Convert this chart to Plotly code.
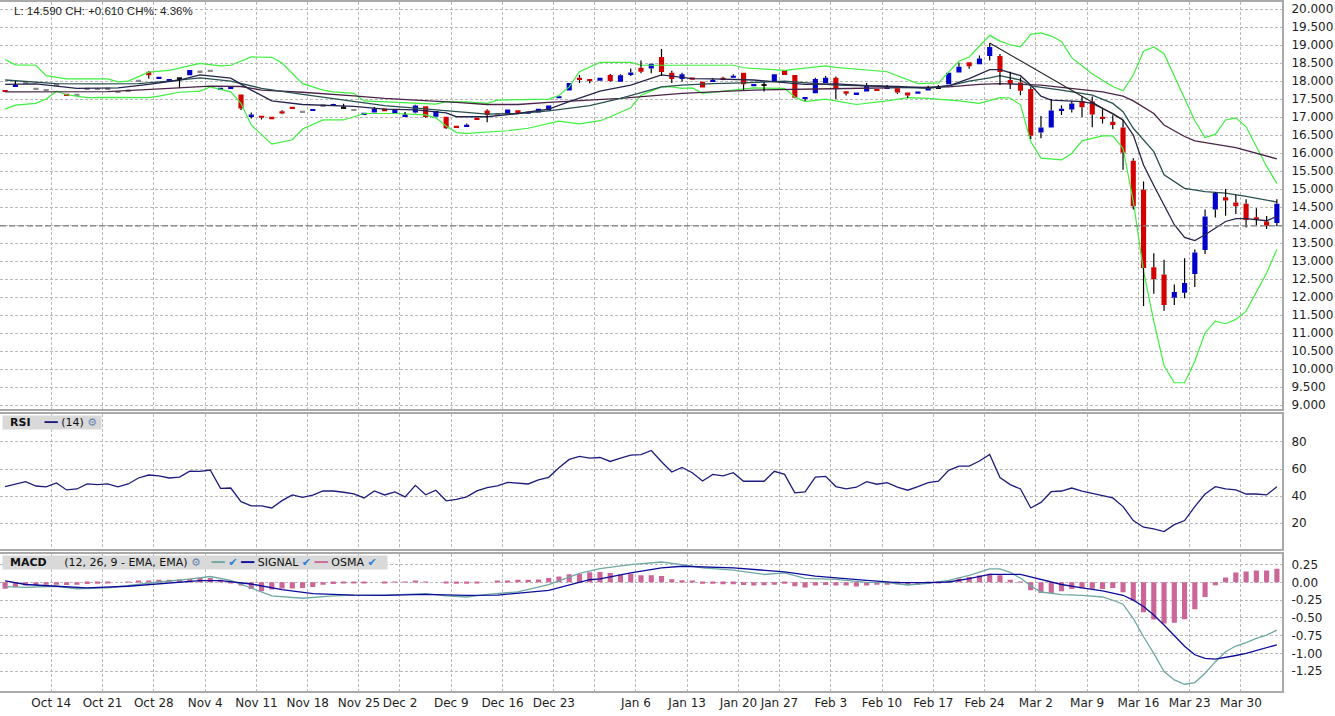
import plotly.graph_objects as go

# trading-day index: 0 = Mon Oct 7 2019 ... 124 = Thu Apr 2 2020
week_starts = [5, 10, 15, 20, 25, 30, 35, 39, 44, 49, 54, 58, 62, 67, 72, 76, 81, 86, 91, 96, 101, 106, 111, 116, 121]
week_labels = ["Oct 14", "Oct 21", "Oct 28", "Nov 4", "Nov 11", "Nov 18", "Nov 25", "Dec 2", "Dec 9", "Dec 16",
               "Dec 23", "", "Jan 6", "Jan 13", "Jan 20", "Jan 27", "Feb 3", "Feb 10", "Feb 17", "Feb 24",
               "Mar 2", "Mar 9", "Mar 16", "Mar 23", "Mar 30"]

# OHLC, one row per trading day
ohlc = [
    (17.75, 17.75, 17.70, 17.70), (17.86, 18.00, 17.86, 17.89), (17.97, 17.97, 17.97, 17.97), (17.79, 17.79, 17.79, 17.79),
    (17.75, 17.75, 17.75, 17.75), (17.91, 17.91, 17.91, 17.91), (17.65, 17.65, 17.60, 17.60), (17.62, 17.62, 17.62, 17.62),
    (17.79, 17.79, 17.79, 17.79), (17.78, 17.78, 17.78, 17.78), (17.80, 17.80, 17.80, 17.80), (17.70, 17.70, 17.70, 17.70),
    (17.74, 17.74, 17.74, 17.74), (18.01, 18.01, 18.01, 18.01), (18.26, 18.27, 18.07, 18.16), (18.07, 18.12, 18.07, 18.12),
    (17.98, 18.06, 17.98, 18.06), (18.08, 18.09, 17.82, 18.08), (18.16, 18.31, 18.16, 18.31), (18.27, 18.27, 18.27, 18.27),
    (18.29, 18.29, 18.29, 18.29), (17.77, 17.81, 17.77, 17.81), (17.80, 17.85, 17.80, 17.85), (17.63, 17.63, 17.20, 17.24),
    (17.02, 17.13, 16.96, 17.07), (17.04, 17.04, 16.93, 16.98), (17.01, 17.01, 16.94, 16.94), (17.16, 17.19, 17.08, 17.10),
    (17.29, 17.29, 17.24, 17.24), (17.15, 17.15, 17.15, 17.15), (17.18, 17.22, 17.18, 17.22), (17.33, 17.33, 17.33, 17.33),
    (17.32, 17.37, 17.32, 17.35), (17.27, 17.37, 17.27, 17.27), (17.20, 17.20, 17.20, 17.20), (17.08, 17.11, 17.08, 17.11),
    (17.13, 17.28, 17.13, 17.24), (17.24, 17.24, 17.16, 17.16), (17.09, 17.21, 17.09, 17.21), (17.03, 17.14, 17.03, 17.07),
    (17.13, 17.34, 17.11, 17.32), (17.30, 17.30, 16.98, 17.00), (17.01, 17.17, 17.01, 17.17), (17.01, 17.01, 16.67, 16.69),
    (16.76, 16.76, 16.71, 16.71), (16.74, 16.82, 16.74, 16.79), (16.97, 16.97, 16.94, 16.94), (17.18, 17.22, 16.86, 17.06),
    (17.09, 17.09, 17.09, 17.09), (17.08, 17.21, 17.08, 17.21), (17.18, 17.18, 17.15, 17.15), (17.09, 17.15, 17.09, 17.15),
    (17.13, 17.23, 17.13, 17.23), (17.18, 17.32, 17.18, 17.32), (17.52, 17.58, 17.52, 17.58), (17.74, 17.95, 17.74, 17.95),
    (18.09, 18.17, 17.95, 18.03), (18.06, 18.06, 17.94, 18.01), (18.01, 18.09, 18.01, 18.09), (18.17, 18.20, 17.98, 18.00),
    (17.98, 18.19, 17.98, 18.16), (18.17, 18.35, 18.14, 18.24), (18.37, 18.57, 18.22, 18.26), (18.35, 18.48, 18.22, 18.48),
    (18.67, 18.89, 18.14, 18.25), (18.23, 18.29, 17.95, 18.06), (18.06, 18.23, 17.99, 18.19), (18.10, 18.10, 18.04, 18.04),
    (17.98, 17.98, 17.82, 17.82), (17.99, 18.08, 17.99, 18.03), (18.08, 18.12, 18.02, 18.05), (18.09, 18.19, 18.09, 18.15),
    (18.23, 18.23, 17.75, 17.91), (17.86, 17.92, 17.86, 17.92), (17.89, 17.98, 17.71, 17.89), (17.98, 18.19, 17.98, 18.19),
    (18.31, 18.31, 18.17, 18.17), (18.17, 18.17, 17.52, 17.54), (17.50, 17.56, 17.45, 17.56), (17.66, 18.09, 17.66, 18.06),
    (17.95, 18.14, 17.95, 18.09), (18.09, 18.13, 17.50, 17.77), (17.72, 17.72, 17.60, 17.65), (17.63, 17.68, 17.63, 17.68),
    (17.71, 17.95, 17.71, 17.89), (17.77, 17.77, 17.74, 17.74), (17.78, 17.89, 17.78, 17.85), (17.80, 17.80, 17.64, 17.68),
    (17.68, 17.68, 17.53, 17.60), (17.65, 17.71, 17.65, 17.71), (17.74, 17.87, 17.74, 17.81), (17.82, 17.89, 17.82, 17.82),
    (17.91, 18.23, 17.91, 18.23), (18.24, 18.51, 18.24, 18.40), (18.52, 18.52, 18.34, 18.41), (18.47, 18.71, 18.47, 18.63),
    (18.70, 19.05, 18.57, 18.95), (18.70, 18.75, 17.89, 18.25), (18.03, 18.26, 17.78, 17.92), (17.96, 18.10, 17.61, 17.73),
    (17.78, 17.84, 16.39, 16.48), (16.57, 17.03, 16.41, 16.71), (16.71, 17.50, 16.71, 17.18), (17.19, 17.33, 17.06, 17.23),
    (17.21, 17.44, 17.13, 17.38), (17.45, 17.57, 17.00, 17.27), (17.43, 17.57, 16.72, 17.07), (17.01, 17.22, 16.82, 16.96),
    (16.87, 17.05, 16.66, 16.78), (16.71, 16.92, 15.54, 16.01), (15.79, 15.86, 14.43, 14.52), (14.98, 15.21, 11.75, 12.81),
    (12.83, 13.22, 12.09, 12.50), (12.63, 13.04, 11.62, 11.78), (11.98, 12.35, 11.78, 12.14), (12.12, 13.08, 11.97, 12.39),
    (12.64, 13.32, 12.28, 13.24), (13.31, 14.43, 13.20, 14.24), (14.43, 14.91, 14.21, 14.89), (14.77, 15.00, 14.26, 14.68),
    (14.63, 14.84, 14.31, 14.52), (14.59, 14.72, 13.93, 14.14), (14.21, 14.47, 14.00, 14.17), (14.10, 14.25, 13.89, 13.98),
    (14.06, 14.72, 13.97, 14.59),
]

# bollinger bands and moving averages (day index, value)
bb_upper_x = [0, 1, 3, 4, 6, 10, 11, 12, 14, 16, 19, 21, 22, 24, 26, 27, 29, 31, 32, 34, 35, 40, 42, 43, 45, 47, 48, 53, 54, 55,
              56, 58, 61, 62, 66, 68, 71, 72, 76, 80, 81, 86, 89, 91, 92, 93, 94, 96, 97, 98, 99, 100, 101, 102, 103, 104, 106,
              108, 109, 110, 111, 112, 113, 114, 116, 117, 118, 119, 120, 121, 123, 124]
bb_upper = [18.60, 18.45, 18.44, 18.15, 18.06, 18.06, 17.98, 18.00, 18.25, 18.30, 18.49, 18.42, 18.44, 18.67, 18.66, 18.50,
            17.93, 17.75, 17.70, 17.66, 17.45, 17.40, 17.36, 17.43, 17.42, 17.38, 17.47, 17.50, 17.60, 17.84, 18.26, 18.52,
            18.52, 18.44, 18.44, 18.46, 18.44, 18.37, 18.30, 18.42, 18.38, 18.26, 17.93, 17.95, 18.26, 18.55, 18.67, 19.27,
            19.11, 19.01, 18.95, 19.30, 19.34, 19.25, 19.10, 18.65, 18.20, 17.85, 17.73, 18.17, 18.83, 18.95, 18.76, 18.15,
            16.90, 16.43, 16.52, 16.92, 16.98, 16.73, 15.63, 15.16]

bb_lower_x = [0, 1, 3, 4, 5, 6, 8, 10, 14, 15, 17, 19, 20, 22, 23, 24, 26, 27, 28, 29, 31, 33, 34, 35, 38, 41, 42, 43, 44, 45,
              49, 51, 54, 55, 56, 58, 59, 61, 62, 64, 65, 66, 67, 68, 71, 73, 76, 77, 78, 80, 83, 86, 88, 90, 93, 95, 97, 98,
              99, 100, 101, 103, 104, 105, 107, 108, 109, 110, 111, 112, 113, 114, 115, 116, 117, 118, 119, 120, 121, 122,
              123, 124]
bb_lower = [17.22, 17.33, 17.38, 17.50, 17.72, 17.62, 17.54, 17.55, 17.54, 17.58, 17.69, 17.72, 17.84, 17.70, 17.38, 16.78,
            16.25, 16.30, 16.37, 16.67, 16.92, 16.92, 17.01, 17.10, 17.10, 17.06, 16.98, 16.75, 16.57, 16.55, 16.62, 16.69,
            16.89, 16.86, 16.81, 16.90, 17.01, 17.26, 17.61, 17.84, 17.84, 17.80, 17.81, 17.66, 17.75, 17.81, 17.80, 17.56,
            17.43, 17.50, 17.35, 17.45, 17.54, 17.52, 17.45, 17.38, 17.54, 17.53, 17.34, 16.32, 15.86, 15.81, 15.99, 16.34,
            16.48, 16.48, 16.13, 14.66, 12.72, 11.33, 10.09, 9.62, 9.62, 10.22, 11.01, 11.33, 11.26, 11.38, 11.61, 12.12,
            12.67, 13.32]

ma20_x = [0, 3, 7, 11, 14, 17, 19, 22, 24, 26, 29, 32, 34, 37, 40, 43, 44, 47, 50, 53, 55, 58, 61, 64, 67, 69, 73, 76, 78,
          81, 84, 87, 90, 92, 94, 96, 97, 99, 100, 101, 102, 105, 106, 108, 109, 110, 111, 112, 114, 115, 116, 117, 119,
          120, 121, 123, 124]
ma20 = [17.91, 17.92, 17.80, 17.81, 17.91, 18.03, 18.17, 18.08, 17.75, 17.45, 17.35, 17.32, 17.30, 17.22, 17.20, 17.12,
        17.01, 17.01, 17.10, 17.22, 17.43, 17.72, 17.89, 18.17, 18.07, 18.06, 18.03, 17.96, 17.91, 17.92, 17.87, 17.85,
        17.81, 17.87, 18.07, 18.32, 18.32, 18.15, 17.89, 17.58, 17.47, 17.43, 17.38, 17.10, 16.92, 16.50, 15.67, 15.10,
        14.01, 13.66, 13.57, 13.73, 14.10, 14.18, 14.18, 14.12, 14.24]

ma_mid_x = [0, 5, 9, 13, 16, 19, 22, 25, 29, 32, 34, 37, 40, 44, 47, 50, 53, 57, 60, 64, 66, 69, 72, 76, 78, 81, 84, 87, 90,
            92, 94, 96, 97, 99, 100, 103, 106, 108, 109, 110, 112, 113, 115, 117, 119, 121, 123, 124]
ma_mid = [18.03, 17.93, 17.92, 17.93, 18.00, 18.09, 18.00, 17.80, 17.63, 17.52, 17.45, 17.32, 17.25, 17.15, 17.08, 17.10,
          17.17, 17.32, 17.52, 17.84, 17.89, 17.93, 17.95, 18.00, 17.95, 17.89, 17.87, 17.83, 17.80, 17.87, 18.00, 18.09,
          18.15, 18.03, 17.87, 17.75, 17.61, 17.38, 17.15, 16.69, 16.04, 15.40, 15.02, 14.93, 14.89, 14.80, 14.70, 14.64]

ma_long_x = [0, 6, 10, 16, 20, 23, 25, 29, 32, 34, 37, 40, 44, 47, 50, 53, 57, 60, 63, 66, 69, 73, 79, 85, 92, 95, 97, 101,
             105, 107, 109, 110, 112, 113, 115, 116, 120, 122, 124]
ma_long = [17.70, 17.70, 17.71, 17.80, 17.86, 17.85, 17.75, 17.69, 17.64, 17.59, 17.52, 17.48, 17.41, 17.35, 17.35, 17.41,
           17.47, 17.52, 17.59, 17.66, 17.70, 17.75, 17.78, 17.80, 17.84, 17.91, 17.93, 17.89, 17.75, 17.70, 17.58, 17.45,
           17.10, 16.78, 16.46, 16.34, 16.15, 15.99, 15.84]

trend_x = [96, 109]
trend_y = [19.06, 16.92]

rsi = [47.0, 49.0, 50.7, 47.5, 46.8, 49.7, 44.6, 45.3, 49.0, 48.5, 49.0, 46.8, 49.0, 53.4, 55.6, 55.0, 53.4, 54.0, 58.5, 58.3,
       59.3, 45.8, 46.0, 36.0, 32.8, 32.8, 31.3, 36.7, 40.9, 39.1, 40.7, 43.8, 43.8, 42.9, 41.7, 38.7, 43.8, 40.9, 43.1, 39.5,
       48.0, 41.0, 44.4, 36.6, 37.6, 39.5, 43.9, 46.3, 47.6, 50.2, 49.5, 49.0, 52.0, 53.9, 61.0, 67.1, 69.3, 68.0, 68.5, 65.6,
       68.0, 70.2, 70.7, 73.7, 65.4, 57.8, 61.2, 57.3, 51.2, 56.1, 54.9, 57.3, 51.0, 51.0, 51.0, 58.3, 56.1, 42.4, 43.2, 54.1,
       54.6, 47.1, 45.4, 46.6, 50.7, 48.8, 50.0, 46.6, 44.4, 47.1, 50.0, 51.0, 59.0, 62.2, 62.2, 65.9, 70.8, 53.8, 48.5, 45.3,
       31.3, 35.4, 43.3, 43.8, 46.0, 43.8, 42.1, 40.4, 38.7, 32.3, 22.0, 17.1, 15.9, 13.9, 19.0, 22.0, 32.3, 41.6, 47.0, 45.3,
       44.6, 41.6, 41.6, 40.9, 47.0]

macd_x = [0, 2, 5, 7, 10, 13, 15, 18, 20, 22, 24, 26, 29, 32, 34, 37, 41, 43, 45, 47, 50, 53, 56, 58, 61, 64, 66, 68, 71,
          74, 76, 78, 81, 84, 86, 88, 90, 92, 94, 96, 97, 98, 99, 100, 101, 102, 103, 105, 107, 108, 109, 110, 111, 112, 113,
          114, 115, 116, 117, 118, 119, 120, 121, 122, 123, 124]
macd = [-0.06, -0.07, -0.055, -0.09, -0.078, -0.023, 0.005, 0.046, 0.082, 0.027, -0.078, -0.19, -0.224, -0.19, -0.18, -0.18,
        -0.16, -0.19, -0.206, -0.17, -0.133, -0.032, 0.128, 0.194, 0.25, 0.287, 0.25, 0.204, 0.171, 0.111, 0.134, 0.056, 0.042,
        0.0, -0.005, -0.037, -0.014, 0.028, 0.098, 0.19, 0.19, 0.14, 0.06, -0.05, -0.136, -0.159, -0.173, -0.182, -0.206,
        -0.252, -0.308, -0.509, -0.766, -1.0, -1.257, -1.374, -1.435, -1.411, -1.28, -1.117, -0.977, -0.897, -0.85, -0.79,
        -0.743, -0.673]

signal_x = [0, 2, 5, 8, 12, 15, 19, 21, 24, 27, 30, 34, 37, 41, 45, 48, 53, 57, 58, 61, 64, 66, 71, 76, 79, 84, 87, 90, 92,
            94, 96, 99, 101, 103, 105, 107, 109, 110, 111, 112, 113, 114, 115, 116, 117, 118, 119, 120, 121, 122, 123, 124]
signal = [0.02, -0.03, -0.055, -0.078, -0.055, -0.023, 0.023, 0.023, -0.023, -0.101, -0.16, -0.179, -0.183, -0.169, -0.183,
          -0.179, -0.114, 0.037, 0.05, 0.134, 0.204, 0.227, 0.204, 0.148, 0.088, 0.028, -0.005, -0.005, 0.005, 0.051, 0.112,
          0.112, 0.04, -0.03, -0.079, -0.121, -0.182, -0.25, -0.34, -0.46, -0.60, -0.75, -0.90, -1.02, -1.07, -1.08, -1.06,
          -1.03, -1.00, -0.96, -0.93, -0.88]

osma = [-0.09, -0.064, -0.046, -0.041, -0.032, -0.032, -0.037, -0.032, -0.023, -0.018, -0.009, 0.0, 0.009, 0.018, 0.027,
        0.037, 0.037, 0.041, 0.05, 0.06, 0.06, 0.037, -0.009, -0.046, -0.092, -0.124, -0.10, -0.087, -0.087, -0.078, -0.064,
        -0.032, -0.023, -0.009, -0.009, -0.005, 0.0, -0.003, 0.003, 0.005, 0.014, 0.005, 0.0, -0.005, -0.018, -0.018, -0.009,
        0.0, 0.014, 0.027, 0.037, 0.037, 0.041, 0.06, 0.082, 0.114, 0.119, 0.142, 0.145, 0.13, 0.111, 0.12, 0.10, 0.10, 0.088,
        0.042, 0.028, 0.014, -0.019, -0.019, -0.028, -0.028, -0.037, -0.046, -0.042, -0.032, -0.019, -0.056, -0.074, -0.046,
        -0.037, -0.046, -0.046, -0.06, -0.046, -0.032, -0.032, -0.028, -0.037, -0.032, -0.019, -0.01, 0.018, 0.056, 0.075,
        0.095, 0.12, 0.10, 0.035, 0.01, -0.112, -0.15, -0.15, -0.126, -0.093, -0.084, -0.089, -0.093, -0.079, -0.14, -0.252,
        -0.42, -0.523, -0.58, -0.57, -0.519, -0.379, -0.206, -0.042, 0.07, 0.14, 0.154, 0.168, 0.168, 0.19]

UP, DOWN, DOJI, FLAT = "#0000cc", "#d40000", "#111111", "#8c8c8c"
GRID = "#b9b9b9"
BORDER = "#a9a9a9"
FONT = "DejaVu Sans"
MIN_BODY = 0.05

days = list(range(len(ohlc)))
body_base, body_len, body_col = [], [], []
wick_x, wick_y = [], []
for i, (o, h, l, c) in enumerate(ohlc):
    lo, hi = min(o, c), max(o, c)
    if hi - lo < MIN_BODY:
        mid = (hi + lo) / 2
        lo, hi = mid - MIN_BODY / 2, mid + MIN_BODY / 2
    if c > o:
        body_col.append(UP)
    elif c < o:
        body_col.append(DOWN)
    elif h > l:
        body_col.append(DOJI)
    else:
        body_col.append(FLAT)
    body_base.append(lo)
    body_len.append(hi - lo)
    if h > hi:
        wick_x += [i, i, None]
        wick_y += [hi, h, None]
    if l < lo:
        wick_x += [i, i, None]
        wick_y += [lo, l, None]

last_close = ohlc[-1][3]
prev_close = ohlc[-2][3]
change = last_close - prev_close
info = f"L: {last_close:.3f} CH: {change:+.3f} CH%: {change / prev_close * 100:.2f}%"

fig = go.Figure()

# price panel
fig.add_trace(go.Scatter(x=bb_upper_x, y=bb_upper, mode="lines", line=dict(color="#3ef03e", width=1.2), xaxis="x", yaxis="y"))
fig.add_trace(go.Scatter(x=bb_lower_x, y=bb_lower, mode="lines", line=dict(color="#3ef03e", width=1.2), xaxis="x", yaxis="y"))
fig.add_trace(go.Scatter(x=ma_long_x, y=ma_long, mode="lines", line=dict(color="#4a2446", width=1.3), xaxis="x", yaxis="y"))
fig.add_trace(go.Scatter(x=ma_mid_x, y=ma_mid, mode="lines", line=dict(color="#2a5050", width=1.3), xaxis="x", yaxis="y"))
fig.add_trace(go.Scatter(x=ma20_x, y=ma20, mode="lines", line=dict(color="#24244c", width=1.3), xaxis="x", yaxis="y"))
fig.add_trace(go.Scatter(x=trend_x, y=trend_y, mode="lines", line=dict(color="#222222", width=1.1), xaxis="x", yaxis="y"))
fig.add_trace(go.Bar(x=days, y=body_len, base=body_base, width=0.5, marker=dict(color=body_col, line=dict(width=0)),
                     xaxis="x", yaxis="y"))
fig.add_trace(go.Scatter(x=wick_x, y=wick_y, mode="lines", line=dict(color="#000000", width=1.2), xaxis="x", yaxis="y"))
fig.add_trace(go.Scatter(x=[-0.5, days[-1] + 0.5], y=[prev_close, prev_close], mode="lines",
                         line=dict(color="#7a7a7a", width=1.3, dash="6px,3px"), xaxis="x", yaxis="y"))

# RSI panel
fig.add_trace(go.Scatter(x=days, y=rsi, mode="lines", line=dict(color="#1c1c7c", width=1.3), xaxis="x2", yaxis="y2"))

# MACD panel
fig.add_trace(go.Bar(x=days, y=osma, width=0.5, marker=dict(color="#cc6699", line=dict(width=0)), xaxis="x3", yaxis="y3"))
fig.add_trace(go.Scatter(x=macd_x, y=macd, mode="lines", line=dict(color="#6fa8a2", width=1.3), xaxis="x3", yaxis="y3"))
fig.add_trace(go.Scatter(x=signal_x, y=signal, mode="lines", line=dict(color="#0c0c9c", width=1.3), xaxis="x3", yaxis="y3"))

xdom = [0, 1282 / 1335]
xrange = [-0.5, days[-1] + 0.5]
tickpos = [w - 0.5 for w in week_starts]
xcommon = dict(domain=xdom, range=xrange, showgrid=True, gridcolor=GRID, griddash="3px,2px", gridwidth=1,
               tickvals=tickpos, ticktext=week_labels, showline=True, mirror=True, linecolor=BORDER, linewidth=2,
               zeroline=False, ticks="", ticklen=0, fixedrange=True, tickangle=0)
ycommon = dict(side="right", showgrid=True, gridcolor=GRID, griddash="3px,2px", gridwidth=1, showline=True, mirror=True,
               linecolor=BORDER, linewidth=2, zeroline=False, ticks="", ticklen=0, ticklabelstandoff=5,
               automargin=False)

fig.update_layout(
    width=1335, height=716, autosize=False,
    margin=dict(l=0, r=0, t=0, b=0),
    paper_bgcolor="white", plot_bgcolor="white",
    showlegend=False, barmode="overlay", hovermode=False,
    font=dict(family=FONT, size=12, color="#1e1e1e"),
    xaxis=dict(anchor="y", showticklabels=False, **xcommon),
    xaxis2=dict(anchor="y2", matches="x", showticklabels=False, **xcommon),
    xaxis3=dict(anchor="y3", matches="x", showticklabels=True, automargin=False, **xcommon),
    yaxis=dict(anchor="x", domain=[1 - 408 / 716, 1], range=[8.895, 20.197], dtick=0.5, tick0=0, tickformat=".3f",
               **ycommon),
    yaxis2=dict(anchor="x2", domain=[1 - 549 / 716, 1 - 413 / 716], range=[0.7, 100.7],
                tickvals=[20, 40, 60, 80], **ycommon),
    yaxis3=dict(anchor="x3", domain=[1 - 691 / 716, 1 - 554 / 716], range=[-1.531, 0.393],
                tickvals=[0.25, 0, -0.25, -0.5, -0.75, -1.0, -1.25],
                ticktext=["0.25", "0.00", "-0.25", "-0.50", "-0.75", "-1.00", "-1.25"], **ycommon),
)

check = "<span style='color:#2f7fd8'>✔</span>"
gear = "<span style='color:#6a86b0'>⚙</span>"
fig.add_annotation(xref="paper", yref="paper", x=12 / 1335, y=1 - 1 / 716, xanchor="left", yanchor="top",
                   text=info, showarrow=False, font=dict(family="Liberation Sans", size=11.5, color="#1e1e1e"))
fig.add_annotation(xref="paper", yref="paper", x=2 / 1335, y=1 - 414 / 716, xanchor="left", yanchor="top",
                   text="  <b>RSI</b>    <span style='color:#1c1c7c'>━━</span> (14) " + gear + " ",
                   showarrow=False, bgcolor="#d9d9d9", borderpad=0, font=dict(size=11, color="#111111"))
fig.add_annotation(xref="paper", yref="paper", x=2 / 1335, y=1 - 555 / 716, xanchor="left", yanchor="top",
                   text="  <b>MACD</b>     (12, 26, 9 - EMA, EMA) " + gear + "   <span style='color:#6fa8a2'>━━</span> "
                        + check + " <span style='color:#0c0c9c'>━━</span> SIGNAL " + check
                        + " <span style='color:#cc6699'>━━</span> OSMA " + check + "   ",
                   showarrow=False, bgcolor="#d9d9d9", borderpad=0, font=dict(size=11, color="#111111"))

# page body has a default margin; drop it so the figure sits at the window corner
fig.write_html("out.html", config={"displayModeBar": False},
               post_script="document.body.style.margin='0';document.body.style.overflow='hidden';")
